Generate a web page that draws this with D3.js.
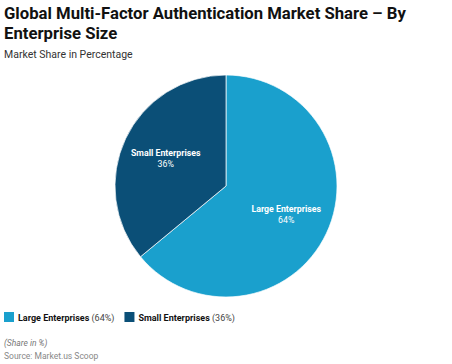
<!DOCTYPE html>
<html>
<head>
<meta charset="utf-8">
<script src="https://cdn.jsdelivr.net/npm/d3@7"></script>
<style>
  body { margin: 0; background: #fff; font-family: Roboto, "Noto Sans", sans-serif; }
  svg text { font-family: Roboto, "Noto Sans", sans-serif; }
</style>
</head>
<body>
<div id="chart"></div>
<script>
let categories = ["Large Enterprises", "Small Enterprises"];
let shares = [64, 36];
let colors = ["#1aa0cd", "#0b4f77"];

let width = 452,
    height = 364;

let svg = d3.select("#chart")
    .append("svg")
    .attr("width", width)
    .attr("height", height);

let data = categories.map((c, i) => ({ name: c, value: shares[i], color: colors[i] }));

// title
svg.append("text")
    .attr("x", 4).attr("y", 19)
    .style("font-size", "16.7px").style("font-weight", "bold").attr("fill", "#111")
    .text("Global Multi-Factor Authentication Market Share – By");
svg.append("text")
    .attr("x", 4).attr("y", 39)
    .style("font-size", "16.7px").style("font-weight", "bold").attr("fill", "#111")
    .text("Enterprise Size");
svg.append("text")
    .attr("x", 4).attr("y", 58)
    .style("font-size", "10.5px").attr("fill", "#333")
    .text("Market Share in Percentage");

let cx = 226, cy = 186, radius = 111;

let pie = d3.pie().sort(null).value(d => d.value);
let arc = d3.arc().innerRadius(0).outerRadius(radius);
let labelArc = d3.arc().innerRadius(radius * 0.6).outerRadius(radius * 0.6);

let g = svg.append("g").attr("transform", `translate(${cx}, ${cy})`);

let arcs = pie(data);

g.selectAll("path")
    .data(arcs)
    .enter()
    .append("path")
    .attr("d", arc)
    .attr("fill", d => d.data.color)
    .attr("stroke", "#fff")
    .attr("stroke-width", 0.7);

let labels = g.selectAll("g.lbl")
    .data(arcs)
    .enter()
    .append("g")
    .attr("class", "lbl")
    .attr("transform", d => `translate(${labelArc.centroid(d)})`);

labels.append("text")
    .attr("text-anchor", "middle")
    .attr("y", -2)
    .style("font-size", "8.8px").style("font-weight", "bold").attr("fill", "#fff")
    .text(d => d.data.name);
labels.append("text")
    .attr("text-anchor", "middle")
    .attr("y", 9)
    .style("font-size", "8.8px").attr("fill", "#fff")
    .text(d => d.data.value + "%");

// legend
let legend = svg.append("g").attr("transform", "translate(4, 312)");
let lx = 0;
data.forEach(d => {
    let item = legend.append("g").attr("transform", `translate(${lx}, 0)`);
    item.append("rect").attr("width", 10).attr("height", 10).attr("fill", d.color);
    let t = item.append("text").attr("x", 14).attr("y", 9)
        .style("font-size", "9px").attr("fill", "#111");
    t.append("tspan").style("font-weight", "bold").text(d.name);
    t.append("tspan").attr("fill", "#444").text(` (${d.value}%)`);
    lx += t.node().getComputedTextLength() + 14 + 10;
});

svg.append("text")
    .attr("x", 4).attr("y", 346)
    .style("font-size", "8.5px").style("font-style", "italic").attr("fill", "#777")
    .text("(Share in %)");
svg.append("text")
    .attr("x", 4).attr("y", 359)
    .style("font-size", "8.5px").attr("fill", "#888")
    .text("Source: Market.us Scoop");
</script>
</body>
</html>
